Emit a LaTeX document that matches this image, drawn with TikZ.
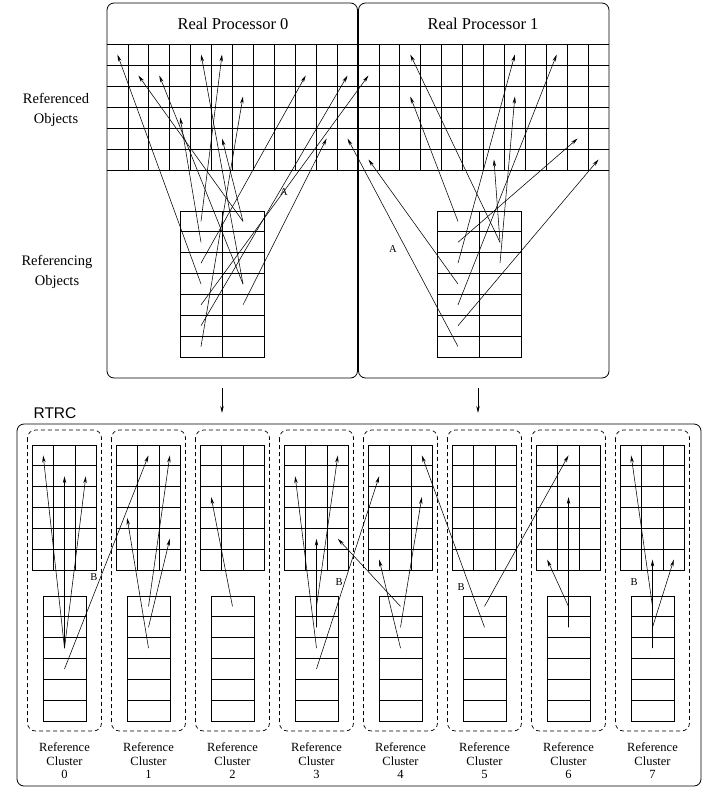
\documentclass[tikz,border=0pt]{standalone}
\usepackage{fontspec}
\setmainfont{Liberation Serif}
\setsansfont{Liberation Sans}
\usetikzlibrary{arrows.meta}
\begin{document}
\begin{tikzpicture}[x=1pt,y=-1pt,
  ar/.style={-{Stealth[length=7pt,width=3.4pt]},line width=0.55pt},
  gridline/.style={line width=0.75pt},
  lbl/.style={inner sep=0pt},
  big/.style={lbl,font=\fontsize{16.5}{18}\selectfont},
  side/.style={lbl,align=center,font=\fontsize{14.5}{19.5}\selectfont},
  small/.style={lbl,font=\fontsize{10.5}{12}\selectfont}]
\useasboundingbox (0,0) rectangle (707,788);

% ---------------- processor boxes ----------------
\draw[line width=0.8pt,rounded corners=7pt] (107,3) rectangle (357.5,378);
\draw[line width=0.8pt,rounded corners=7pt] (358.5,3) rectangle (609,378);
\node[big] (rp0) at (233,24) {Real Processor 0};
\node[big] (rp1) at (483,24) {Real Processor 1};
\node[side] (refd) at (56,110) {Referenced\\Objects};
\node[side] (refg) at (57,272) {Referencing\\Objects};

% referenced objects grid
\foreach \i in {0,...,6} \draw[gridline] (107,{44+21*\i}) -- (609,{44+21*\i});
\foreach \j in {1,...,23} \draw[gridline] ({107+20.917*\j},44) -- ({107+20.917*\j},170);
\foreach \c in {1,...,24} \foreach \r in {1,...,6}
  \coordinate (T\c-\r) at ({107+20.917*(\c-0.5)},{44+21*(\r-0.5)});

% referencing objects grids
\foreach \gx/\nm in {180/P0,437/P1} {
  \draw[gridline] (\gx,211) rectangle ({\gx+84},357);
  \foreach \i in {1,...,6} \draw[gridline] (\gx,{211+20.857*\i}) -- ({\gx+84},{211+20.857*\i});
  \draw[line width=1pt] ({\gx+42},211) -- ({\gx+42},357);
  \foreach \r in {1,...,7} {
    \coordinate (\nm L\r) at ({\gx+21},{211+20.857*(\r-0.5)});
    \coordinate (\nm R\r) at ({\gx+63},{211+20.857*(\r-0.5)});
  }
}

% processor 0 references
\draw[ar] (P0L1) -- (T6-1);
\draw[ar] (P0L2) -- (T4-4);
\draw[ar] (P0L3) -- (T10-2);
\draw[ar] (P0L4) -- (T1-1);
\draw[ar] (P0L5) -- (T13-2);
\draw[ar] (P0L6) -- (T12-2);
\draw[ar] (P0L7) -- (T7-3);
\draw[ar] (P0R1) -- (T2-2);
\draw[ar] (P0R1) -- (T6-5);
\draw[ar] (P0R4) -- (T3-2);
\draw[ar] (P0R4) -- (T5-1);
\draw[ar] (P0R5) -- (T11-5);
% processor 1 references
\draw[ar] (P1L1) -- (T15-3);
\draw[ar] (P1L2) -- (T23-5);
\draw[ar] (P1L3) -- (T20-1);
\draw[ar] (P1L4) -- (T13-6);
\draw[ar] (P1L5) -- (T22-1);
\draw[ar] (P1L6) -- (T24-6);
\draw[ar] (P1L7) -- (T12-5);
\draw[ar] (P1R2) -- (T15-1);
\draw[ar] (P1R2) -- (T19-6);
\draw[ar] (P1R3) -- (T20-3);

\node[small] (la0) at (284,192) {A};
\node[small] (la1) at (393,249) {A};

% down arrows
\coordinate (d0a) at (222,388); \coordinate (d0b) at (222,413);
\coordinate (d1a) at (478,388); \coordinate (d1b) at (478,413);
\draw[ar] (d0a) -- (d0b);
\draw[ar] (d1a) -- (d1b);

% ---------------- RTRC ----------------
\draw[line width=0.8pt,rounded corners=7pt] (17,424) rectangle (701,786);
\node[lbl,font=\sffamily\fontsize{15.5}{17}\selectfont] (rtrc) at (55,413.5) {RTRC};

\foreach \k in {0,...,7} {
  \pgfmathsetmacro\cx{64.5+84*\k}
  \draw[dash pattern=on 4pt off 3pt,line width=0.7pt,rounded corners=8pt] ({\cx-37},430) rectangle ({\cx+37},731);
  \draw[gridline] ({\cx-32},445) rectangle ({\cx+32},570);
  \foreach \i in {1,...,5} \draw[gridline] ({\cx-32},{445+20.833*\i}) -- ({\cx+32},{445+20.833*\i});
  \foreach \j in {1,2} \draw[gridline] ({\cx-32+21.333*\j},445) -- ({\cx-32+21.333*\j},570);
  \draw[gridline] ({\cx-21.5},596) rectangle ({\cx+21.5},721);
  \foreach \i in {1,...,5} \draw[gridline] ({\cx-21.5},{596+20.833*\i}) -- ({\cx+21.5},{596+20.833*\i});
  \foreach \c in {1,2,3} \foreach \r in {1,...,6}
    \coordinate (C\k-\c-\r) at ({\cx-32+21.333*(\c-0.5)},{445+20.833*(\r-0.5)});
  \foreach \r in {1,...,6} \coordinate (B\k-\r) at (\cx,{596+20.833*(\r-0.5)});
  \node[lbl,align=center,font=\fontsize{12.5}{13.5}\selectfont] (cl\k) at (\cx,761) {Reference\\Cluster\\\k};
}

% cluster references
\draw[ar] (B0-3) -- (C0-1-1);
\draw[ar] (B0-3) -- (C0-2-2);
\draw[ar] (B0-3) -- (C0-3-2);
\draw[ar] (B0-4) -- (C1-2-1);
\draw[ar] (B1-3) -- (C1-1-4);
\draw[ar] (B1-1) -- (C1-3-1);
\draw[ar] (B1-2) -- (C1-3-5);
\draw[ar] (B2-1) -- (C2-1-3);
\draw[ar] (B3-3) -- (C3-1-2);
\draw[ar] (B3-1) -- (C3-3-1);
\draw[ar] (B3-2) -- (C3-2-5);
\draw[ar] (B3-4) -- (C4-1-2);
\draw[ar] (B4-1) -- (C3-3-5);
\draw[ar] (B4-2) -- (C4-3-3);
\draw[ar] (B4-3) -- (C4-1-6);
\draw[ar] (B5-2) -- (C4-3-1);
\draw[ar] (B5-1) -- (C6-2-1);
\draw[ar] (B6-2) -- (C6-2-3);
\draw[ar] (B6-1) -- (C6-1-6);
\draw[ar] (B7-1) -- (C7-1-1);
\draw[ar] (B7-2) -- (C7-3-6);
\draw[ar] (B7-3) -- (C7-2-6);

\node[small] (lb0) at (94,577) {B};
\node[small] (lb3) at (339,582) {B};
\node[small] (lb5) at (461,587) {B};
\node[small] (lb7) at (634,582) {B};
\end{tikzpicture}
\end{document}
